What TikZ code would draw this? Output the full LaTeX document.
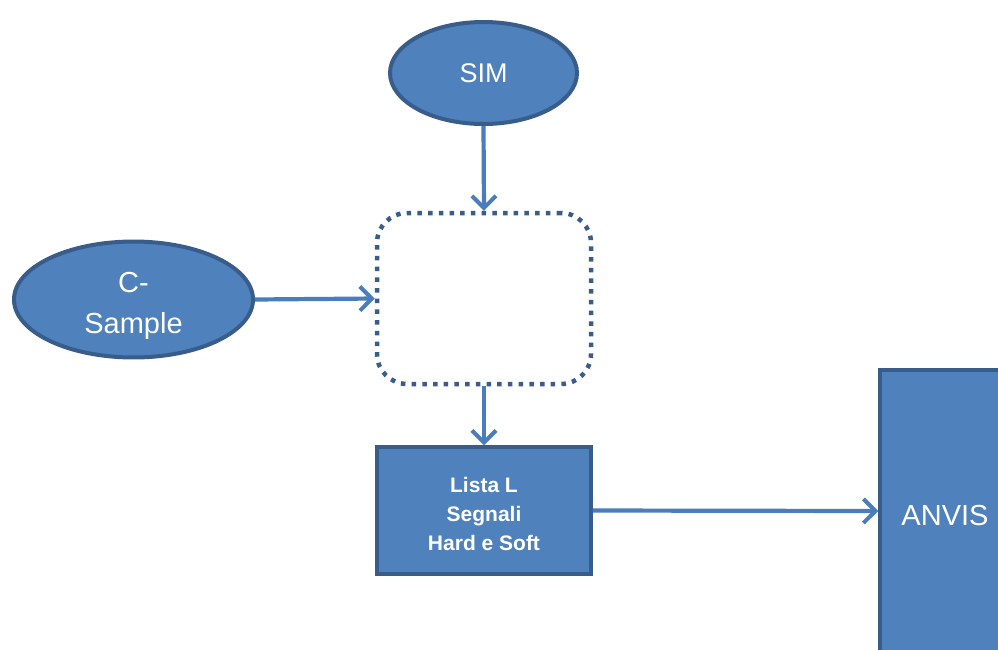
\documentclass[tikz,border=0pt]{standalone}
\usepackage{fontspec}
\setmainfont{Liberation Sans}
\usetikzlibrary{shapes.geometric,arrows.meta}
\definecolor{fillblue}{HTML}{4F81BD}
\definecolor{edgeblue}{HTML}{385D8A}
\definecolor{arrowblue}{HTML}{4A7EBB}
\newcommand{\stacklines}[2]{\raisebox{#1}[\height][\depth]{\begin{tabular}{@{}c@{}}#2\end{tabular}}}
\tikzset{
  oval/.style={ellipse, draw=edgeblue, line width=4pt, fill=fillblue, text=white, inner sep=0pt, font=\fontsize{27}{41}\selectfont, align=center},
  bluebox/.style={rectangle, draw=edgeblue, line width=3.5pt, fill=fillblue, text=white, inner sep=0pt, align=center},
  dotbox/.style={rectangle, rounded corners=30pt, draw=edgeblue, line width=4.5pt, dash pattern=on 4.5pt off 6.2pt},
  conn/.style={draw=arrowblue, line width=4.2pt, -{Straight Barb[length=12pt,width=24pt,line width=4pt]}}
}
\begin{document}
\begin{tikzpicture}[x=1pt,y=-1pt]
\useasboundingbox (0,0) rectangle (998,649);
\node[oval, minimum width=187pt, minimum height=102pt] (sim) at (483.5,73) {SIM};
\node[oval, minimum width=239pt, minimum height=111pt, font=\fontsize{29}{41}\selectfont] (cs) at (133.5,299.5) {\stacklines{-5pt}{C-\\Sample}};
\node[dotbox, minimum width=214pt, minimum height=171pt] (mid) at (484,298.5) {};
\node[bluebox, minimum width=214pt, minimum height=127pt, font=\bfseries\fontsize{21}{29}\selectfont] (lista) at (484,510.5) {\stacklines{-5pt}{Lista L\\Segnali\\Hard e Soft}};
\node[bluebox, minimum width=130pt, minimum height=282pt, font=\fontsize{29}{34}\selectfont] (anvis) at (945,511) {\raisebox{-5pt}[\height][\depth]{ANVIS}};
\draw[conn] (sim.south) -- (mid.north);
\draw[conn] (cs.east) -- (mid.west);
\draw[conn] (mid.south) -- (lista.north);
\draw[conn] (lista.east) -- (anvis.west);
\end{tikzpicture}
\end{document}
